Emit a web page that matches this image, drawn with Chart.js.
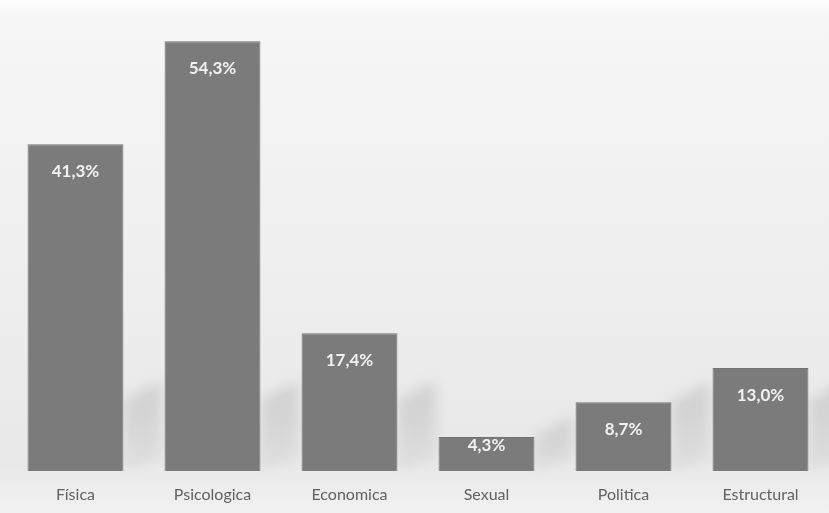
<!DOCTYPE html>
<html>
<head>
<meta charset="utf-8">
<script src="https://cdn.jsdelivr.net/npm/chart.js@4"></script>
<style>
  html, body { margin: 0; padding: 0; background: #ffffff; }
  #wrap { width: 829px; height: 513px; }
</style>
</head>
<body>
<div id="wrap"><canvas id="c" width="829" height="513"></canvas></div>
<script>
// data
const categories = ['Física', 'Psicologica', 'Economica', 'Sexual', 'Politica', 'Estructural'];
const shares = [41.3, 54.3, 17.4, 4.3, 8.7, 13.0];
const shareLabels = ['41,3%', '54,3%', '17,4%', '4,3%', '8,7%', '13,0%'];

/* soft grey backdrop behind the plot */
const backdrop = {
  id: 'backdrop',
  beforeDraw(chart) {
    const { ctx, width, height } = chart;
    const g = ctx.createLinearGradient(0, 0, 0, height);
    g.addColorStop(0, '#ffffff');
    g.addColorStop(0.03, '#f6f6f6');
    g.addColorStop(0.5, '#efefef');
    g.addColorStop(0.9, '#e8e8e8');
    g.addColorStop(1, '#f1f1f1');
    ctx.save();
    ctx.fillStyle = g;
    ctx.fillRect(0, 0, width, height);
    ctx.restore();
  }
};

/* slanted shadow to the right of each bar's foot */
const barShadow = {
  id: 'barShadow',
  beforeDatasetsDraw(chart) {
    const { ctx } = chart;
    const meta = chart.getDatasetMeta(0);
    ctx.save();
    ctx.filter = 'blur(7px)';
    meta.data.forEach(bar => {
      const r = bar.x + bar.width / 2;
      const b = bar.base;
      const h = Math.min(b - bar.y, 70);
      const g = ctx.createLinearGradient(0, b - h - 20, 0, b);
      g.addColorStop(0, 'rgba(0,0,0,0.12)');
      g.addColorStop(1, 'rgba(0,0,0,0.04)');
      ctx.fillStyle = g;
      ctx.beginPath();
      ctx.moveTo(r, b);
      ctx.lineTo(r, b - h);
      ctx.lineTo(r + 38, b - h - 20);
      ctx.lineTo(r + 38, b - 15);
      ctx.closePath();
      ctx.fill();
    });
    ctx.restore();
  }
};

/* white values inside the top of the bars */
const valueLabels = {
  id: 'valueLabels',
  afterDatasetsDraw(chart) {
    const { ctx } = chart;
    const meta = chart.getDatasetMeta(0);
    ctx.save();
    ctx.font = 'bold 17px Lato, "Open Sans", sans-serif';
    ctx.fillStyle = '#f2f2f2';
    ctx.textAlign = 'center';
    ctx.textBaseline = 'middle';
    meta.data.forEach((bar, i) => {
      const h = bar.base - bar.y;
      const off = h < 50 ? h * 0.25 : 27;
      ctx.fillText(shareLabels[i], bar.x, bar.y + off);
    });
    ctx.restore();
  }
};

new Chart(document.getElementById('c'), {
  type: 'bar',
  data: {
    labels: categories,
    datasets: [{
      data: shares,
      backgroundColor: '#7b7b7b',
      borderColor: '#727272',
      borderWidth: 1,
      barPercentage: 0.7,
      categoryPercentage: 1
    }]
  },
  options: {
    responsive: false,
    animation: false,
    layout: { padding: { left: 7, right: 0, top: 12, bottom: 0 } },
    plugins: { legend: { display: false }, tooltip: { enabled: false } },
    scales: {
      y: { display: false, min: 0, max: 58 },
      x: {
        grid: { display: false },
        border: { display: false },
        ticks: {
          color: '#626262',
          padding: 6,
          font: { family: 'Lato, "Open Sans", sans-serif', size: 16 }
        },
        afterFit: s => { s.height = 42; }
      }
    }
  },
  plugins: [backdrop, barShadow, valueLabels]
});
</script>
</body>
</html>
